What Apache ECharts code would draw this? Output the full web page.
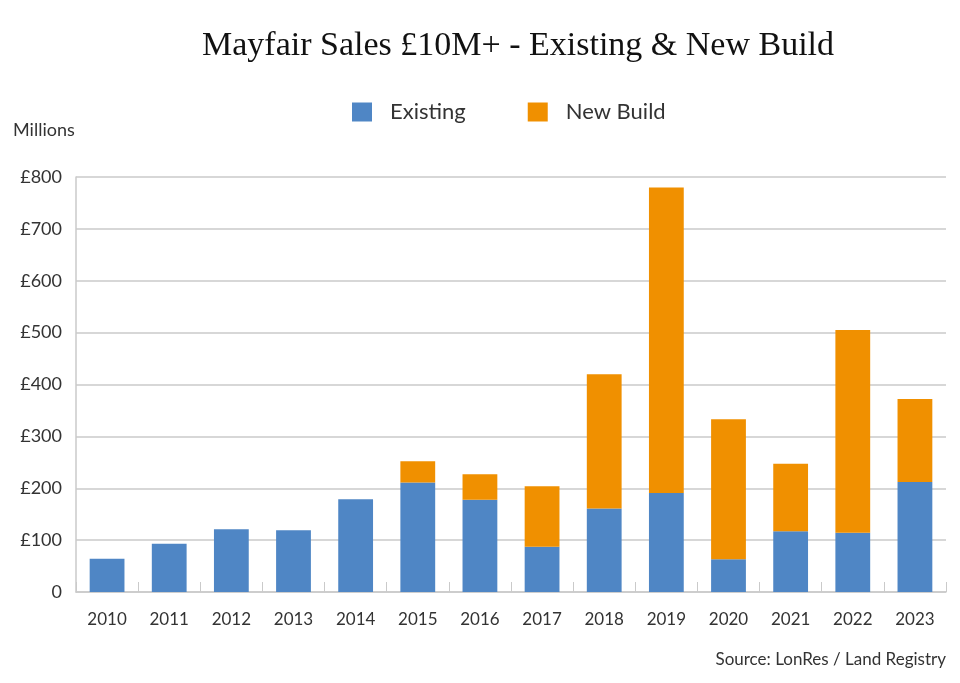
<!DOCTYPE html>
<html>
<head>
<meta charset="utf-8">
<title>Mayfair Sales</title>
<script src="https://cdn.jsdelivr.net/npm/echarts@6/dist/echarts.min.js"></script>
<style>
	html, body { margin: 0; padding: 0; background: #fff; }
	#chart { width: 960px; height: 683px; }
</style>
</head>
<body>
<div id="chart"></div>
<script>
// 数据 (£ millions)
var years = ["2010","2011","2012","2013","2014","2015","2016","2017","2018","2019","2020","2021","2022","2023"];
var existing = [64, 93, 121, 119, 179, 211, 178, 87, 161, 191, 63, 117, 114, 212];
var newBuild = [0, 0, 0, 0, 0, 41, 49, 117, 259, 589, 270, 130, 391, 160];
var yTicks = [0, 100, 200, 300, 400, 500, 600, 700, 800];

var sans = "Lato, 'Open Sans', sans-serif";
var grey = "#cacaca";

var myChart = echarts.init(document.getElementById("chart"));
myChart.setOption({
	animation: false,
	title: {
		text: "Mayfair Sales £10M+ - Existing & New Build",
		left: 202,
		top: 29,
		padding: 0,
		textStyle: {
			fontFamily: "'Liberation Serif', serif",
			fontWeight: "normal",
			fontSize: 34,
			color: "#111"
		}
	},
	legend: {
		data: ["Existing", "New Build"],
		left: 352,
		top: 101,
		padding: 0,
		itemWidth: 20,
		itemHeight: 19,
		itemGap: 62,
		icon: "rect",
		textStyle: { fontFamily: sans, fontSize: 22, color: "#333", padding: [0, 0, 0, 13] }
	},
	graphic: [{
		type: "text",
		left: 13,
		top: 121,
		style: { text: "Millions", font: "18px " + sans, fill: "#333" }
	}, {
		type: "text",
		right: 14,
		top: 651,
		style: { text: "Source: LonRes / Land Registry", font: "17px " + sans, fill: "#333" }
	}],
	grid: { left: 76, right: 14, top: 177, bottom: 91 },
	xAxis: {
		type: "category",
		data: years,
		axisLine: { lineStyle: { color: grey, width: 1.5 } },
		axisTick: { show: true, inside: true, length: 10, lineStyle: { color: grey } },
		axisLabel: { fontFamily: sans, fontSize: 17, color: "#333", margin: 19 }
	},
	yAxis: {
		type: "value",
		min: yTicks[0],
		max: yTicks[yTicks.length - 1],
		interval: 100,
		axisLine: { show: true, lineStyle: { color: grey, width: 1.5 } },
		axisTick: { show: false },
		splitLine: { lineStyle: { color: grey, width: 1.5 } },
		axisLabel: {
			fontFamily: sans, fontSize: 18, color: "#333", margin: 14,
			formatter: function(v) { return v == 0 ? "0" : "£" + v; }
		}
	},
	series: [{
		name: "Existing",
		type: "bar",
		stack: "total",
		barWidth: "56%",
		itemStyle: { color: "#4f86c5" },
		data: existing
	}, {
		name: "New Build",
		type: "bar",
		stack: "total",
		barWidth: "56%",
		itemStyle: { color: "#f09000" },
		data: newBuild
	}]
});
</script>
</body>
</html>
